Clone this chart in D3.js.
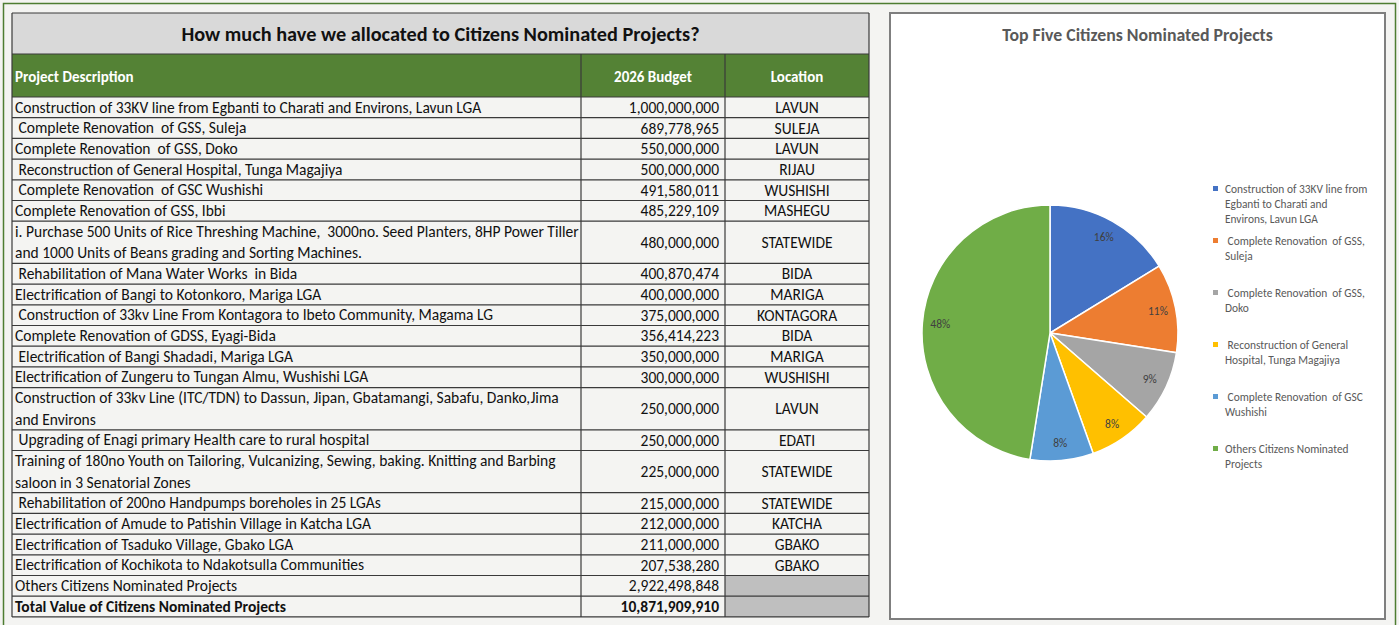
<!DOCTYPE html>
<html>
<head>
<meta charset="utf-8">
<script src="https://cdn.jsdelivr.net/npm/d3@7"></script>
<style>
  body { margin: 0; background: #f4f4f2; }
  svg { display: block; }
  text { font-family: Carlito, Lato, sans-serif; white-space: pre; }
</style>
</head>
<body>
<script>
var tableTitle = 'How much have we allocated to Citizens Nominated Projects?';
var columns = ['Project Description', '2026 Budget', 'Location'];

var projects = [
  'Construction of 33KV line from Egbanti to Charati and Environs, Lavun LGA',
  ' Complete Renovation  of GSS, Suleja',
  'Complete Renovation  of GSS, Doko',
  ' Reconstruction of General Hospital, Tunga Magajiya',
  ' Complete Renovation  of GSC Wushishi',
  'Complete Renovation of GSS, Ibbi',
  'i. Purchase 500 Units of Rice Threshing Machine,  3000no. Seed Planters, 8HP Power Tiller\nand 1000 Units of Beans grading and Sorting Machines.',
  ' Rehabilitation of Mana Water Works  in Bida',
  'Electrification of Bangi to Kotonkoro, Mariga LGA',
  ' Construction of 33kv Line From Kontagora to Ibeto Community, Magama LG',
  'Complete Renovation of GDSS, Eyagi-Bida',
  ' Electrification of Bangi Shadadi, Mariga LGA',
  'Electrification of Zungeru to Tungan Almu, Wushishi LGA',
  'Construction of 33kv Line (ITC/TDN) to Dassun, Jipan, Gbatamangi, Sabafu, Danko,Jima\nand Environs',
  ' Upgrading of Enagi primary Health care to rural hospital',
  'Training of 180no Youth on Tailoring, Vulcanizing, Sewing, baking. Knitting and Barbing\nsaloon in 3 Senatorial Zones',
  ' Rehabilitation of 200no Handpumps boreholes in 25 LGAs',
  'Electrification of Amude to Patishin Village in Katcha LGA',
  'Electrification of Tsaduko Village, Gbako LGA',
  'Electrification of Kochikota to Ndakotsulla Communities',
  'Others Citizens Nominated Projects',
  'Total Value of Citizens Nominated Projects'
];

var budgets = [
  1000000000, 689778965, 550000000, 500000000, 491580011, 485229109,
  480000000, 400870474, 400000000, 375000000, 356414223, 350000000,
  300000000, 250000000, 250000000, 225000000, 215000000, 212000000,
  211000000, 207538280, 2922498848, 10871909910
];

var locations = [
  'LAVUN', 'SULEJA', 'LAVUN', 'RIJAU', 'WUSHISHI', 'MASHEGU',
  'STATEWIDE', 'BIDA', 'MARIGA', 'KONTAGORA', 'BIDA', 'MARIGA',
  'WUSHISHI', 'LAVUN', 'EDATI', 'STATEWIDE', 'STATEWIDE', 'KATCHA',
  'GBAKO', 'GBAKO', '', ''
];

var pieTitle = 'Top Five Citizens Nominated Projects';
var pieNames = [
  'Construction of 33KV line from Egbanti to Charati and Environs, Lavun LGA',
  ' Complete Renovation  of GSS, Suleja',
  ' Complete Renovation  of GSS, Doko',
  ' Reconstruction of General Hospital, Tunga Magajiya',
  ' Complete Renovation  of GSC Wushishi',
  'Others Citizens Nominated Projects'
];
var pieValues = budgets.slice(0, 5).concat([budgets[20]]);
var pieColors = ['#4472c4', '#ed7d31', '#a5a5a5', '#ffc000', '#5b9bd5', '#70ad47'];

var W = 1399, H = 625;
var svg = d3.select('body').append('svg').attr('width', W).attr('height', H);

// outer green frame
svg.append('rect')
  .attr('x', 3.5).attr('y', 3.5).attr('width', 1392).attr('height', 640)
  .attr('fill', 'none').attr('stroke', '#4e7d32').attr('stroke-width', 1.5);

// ---------- table ----------
var colX = [12, 581, 725, 869];
var titleTop = 13, headTop = 54, bodyTop = 97;
var lineH = 20.7, extraLine = 21.5;
var fs = 15.5;

var rows = projects.map(function(p, i) {
  return { desc: p.split('\n'), budget: budgets[i], loc: locations[i], bold: i === projects.length - 1 };
});
var yPos = [bodyTop];
rows.forEach(function(r, i) {
  r.y = yPos[i];
  r.h = lineH + (r.desc.length - 1) * extraLine;
  yPos.push(r.y + r.h);
});
var tableBottom = yPos[yPos.length - 1];

var table = svg.append('g');

table.append('rect')
  .attr('x', colX[0]).attr('y', titleTop).attr('width', colX[3] - colX[0]).attr('height', headTop - titleTop)
  .attr('fill', '#d9d9d9');
table.append('text')
  .attr('x', (colX[0] + colX[3]) / 2).attr('y', titleTop + 28)
  .attr('text-anchor', 'middle').attr('font-size', 20.3).attr('font-weight', 'bold').attr('fill', '#111')
  .text(tableTitle);

table.append('rect')
  .attr('x', colX[0]).attr('y', headTop).attr('width', colX[3] - colX[0]).attr('height', bodyTop - headTop)
  .attr('fill', '#548235');
table.selectAll('.head')
  .data(columns)
  .enter()
  .append('text')
    .attr('x', function(d, i) { return i === 0 ? colX[0] + 3 : (colX[i] + colX[i + 1]) / 2; })
    .attr('y', headTop + 28)
    .attr('text-anchor', function(d, i) { return i === 0 ? 'start' : 'middle'; })
    .attr('font-size', 15).attr('font-weight', 'bold').attr('fill', '#fff')
    .text(function(d) { return d; });

// gray cells for the last two location cells
table.selectAll('.grey')
  .data(rows.filter(function(r) { return r.loc === ''; }))
  .enter()
  .append('rect')
    .attr('x', colX[2]).attr('y', function(d) { return d.y; })
    .attr('width', colX[3] - colX[2]).attr('height', function(d) { return d.h; })
    .attr('fill', '#bfbfbf');

var fmt = d3.format(',');
var rowG = table.selectAll('.row')
  .data(rows)
  .enter()
  .append('g')
    .attr('font-size', fs)
    .attr('fill', '#111')
    .attr('font-weight', function(d) { return d.bold ? 'bold' : 'normal'; });

rowG.selectAll('.desc')
  .data(function(d) { return d.desc.map(function(t, k) { return { t: t, y: d.y + 15.5 + k * extraLine }; }); })
  .enter()
  .append('text')
    .attr('x', colX[0] + 3)
    .attr('y', function(d) { return d.y; })
    .text(function(d) { return d.t; });

rowG.append('text')
  .attr('x', colX[2] - 6)
  .attr('y', function(d) { return d.y + d.h / 2 + 5.5; })
  .attr('text-anchor', 'end')
  .text(function(d) { return fmt(d.budget); });

rowG.append('text')
  .attr('x', (colX[2] + colX[3]) / 2)
  .attr('y', function(d) { return d.y + d.h / 2 + 5.5; })
  .attr('text-anchor', 'middle')
  .text(function(d) { return d.loc; });

// grid lines
var grid = table.append('g').attr('stroke', '#3a3a3a').attr('stroke-width', 1.2);
grid.selectAll('.hline')
  .data([titleTop, headTop, bodyTop].concat(yPos.slice(1)))
  .enter()
  .append('line')
    .attr('x1', colX[0]).attr('x2', colX[3])
    .attr('y1', function(d) { return d; }).attr('y2', function(d) { return d; });
grid.selectAll('.vline')
  .data(colX)
  .enter()
  .append('line')
    .attr('x1', function(d) { return d; }).attr('x2', function(d) { return d; })
    .attr('y1', function(d, i) { return i === 0 || i === 3 ? titleTop : headTop; })
    .attr('y2', tableBottom);

// ---------- pie chart ----------
var box = { x: 890, y: 13, w: 495, h: 606 };
svg.append('rect')
  .attr('x', box.x).attr('y', box.y).attr('width', box.w).attr('height', box.h)
  .attr('fill', '#fff').attr('stroke', '#7f7f7f').attr('stroke-width', 2);

svg.append('text')
  .attr('x', box.x + box.w / 2).attr('y', 41)
  .attr('text-anchor', 'middle').attr('font-size', 17.8).attr('font-weight', 'bold').attr('fill', '#595959')
  .text(pieTitle);

var cx = 1050, cy = 333, r = 128;
var pie = d3.pie().sort(null).value(function(d) { return d; });
var arc = d3.arc().innerRadius(0).outerRadius(r);
var labelArc = d3.arc().innerRadius(r * 0.86).outerRadius(r * 0.86);
var shares = roundShares(pieValues);

var pg = svg.append('g').attr('transform', 'translate(' + cx + ',' + cy + ')');
var slices = pg.selectAll('.slice')
  .data(pie(pieValues))
  .enter();
slices.append('path')
  .attr('d', arc)
  .attr('fill', function(d, i) { return pieColors[i]; })
  .attr('stroke', '#fff').attr('stroke-width', 1.5);
slices.append('text')
  .attr('transform', function(d) { return 'translate(' + labelArc.centroid(d) + ')'; })
  .attr('dy', '0.35em')
  .attr('text-anchor', 'middle')
  .attr('font-size', 11.5).attr('fill', '#404040')
  .text(function(d, i) { return shares[i] + '%'; });

// legend
var legend = svg.append('g').attr('transform', 'translate(1213,189)');
var items = legend.selectAll('.item')
  .data(pieNames)
  .enter()
  .append('g')
    .attr('transform', function(d, i) { return 'translate(0,' + (i * 52) + ')'; });
items.append('rect')
  .attr('x', 0).attr('y', -3).attr('width', 5).attr('height', 5)
  .attr('fill', function(d, i) { return pieColors[i]; });
items.append('text')
  .attr('x', 12).attr('y', 4)
  .attr('font-size', 11.4).attr('fill', '#595959')
  .text(function(d) { return d; })
  .call(wrap, 146);

// percentages that add up to 100 (largest remainder)
function roundShares(vals) {
  var tot = d3.sum(vals);
  var raw = vals.map(function(v) { return v / tot * 100; });
  var out = raw.map(Math.floor);
  var left = 100 - d3.sum(out);
  raw.map(function(v, i) { return { i: i, rem: v - Math.floor(v) }; })
    .sort(function(a, b) { return b.rem - a.rem; })
    .slice(0, left)
    .forEach(function(o) { out[o.i] += 1; });
  return out;
}

function wrap(text, width) {
  text.each(function() {
    var t = d3.select(this),
        words = t.text().split(' ').reverse(),
        word,
        line = [],
        n = 0,
        x = t.attr('x'),
        y = t.attr('y'),
        tspan = t.text(null).append('tspan').attr('x', x).attr('y', y);
    while ((word = words.pop()) !== undefined) {
      line.push(word);
      tspan.text(line.join(' '));
      if (tspan.node().getComputedTextLength() > width && line.length > 1) {
        line.pop();
        tspan.text(line.join(' '));
        line = [word];
        tspan = t.append('tspan').attr('x', x).attr('y', +y + (++n) * 15).text(word);
      }
    }
  });
}
</script>
</body>
</html>
